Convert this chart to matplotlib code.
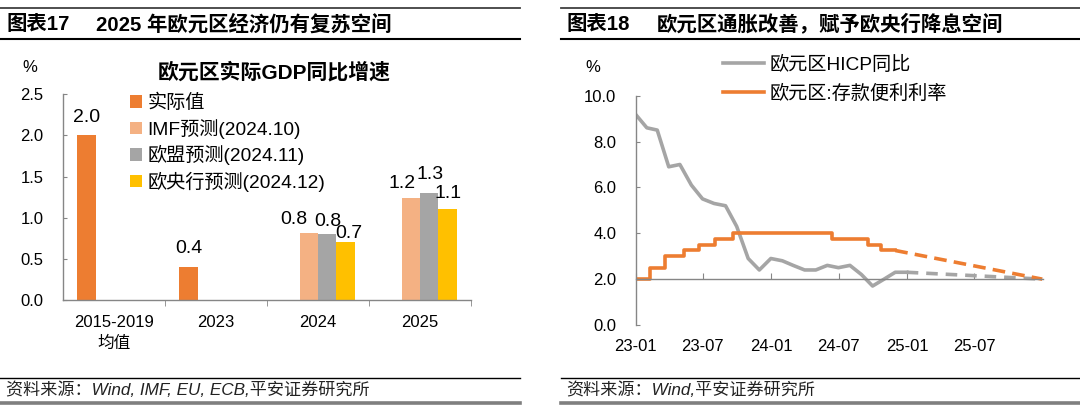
# 欧元区GDP增速预测(柱状图) + 欧元区HICP与存款便利利率(折线图)
import numpy as np
import pandas as pd
import matplotlib
matplotlib.use("Agg")
from matplotlib import pyplot as plt
from matplotlib.lines import Line2D
import matplotlib.dates as mdates

plt.rcParams['font.family'] = ['Liberation Sans', 'Noto Sans CJK SC']
plt.rcParams['axes.unicode_minus'] = False

# ---- 数据: 左图 ----
categories = ['2015-2019\n均值', '2023', '2024', '2025']
gdp_actual = [2.0, 0.4, np.nan, np.nan]
gdp_imf = [np.nan, np.nan, 0.82, 1.24]
gdp_eu = [np.nan, np.nan, 0.80, 1.30]
gdp_ecb = [np.nan, np.nan, 0.70, 1.10]
gdp_names = ['实际值', 'IMF预测(2024.10)', '欧盟预测(2024.11)', '欧央行预测(2024.12)']
left_yticks = [0.0, 0.5, 1.0, 1.5, 2.0, 2.5]

# ---- 数据: 右图 ----
hicp_dates = pd.date_range('2022-12-31', '2024-12-31', freq='ME')
hicp_values = [9.2, 8.6, 8.5, 6.9, 7.0, 6.1, 5.5, 5.3, 5.2, 4.3, 2.9, 2.4, 2.9,
               2.8, 2.6, 2.4, 2.4, 2.6, 2.5, 2.6, 2.2, 1.7, 2.0, 2.3, 2.3]
hicp_fc_dates = pd.to_datetime(['2024-12-31', '2025-12-31'])
hicp_fc_values = [2.3, 2.0]
rate_dates = pd.to_datetime(['2023-01-01', '2023-02-08', '2023-03-22', '2023-05-10',
                             '2023-06-21', '2023-08-02', '2023-09-20', '2024-06-12',
                             '2024-09-18', '2024-10-23', '2024-11-30'])
rate_values = [2.0, 2.5, 3.0, 3.25, 3.5, 3.75, 4.0, 3.75, 3.5, 3.25, 3.25]
rate_fc_dates = pd.to_datetime(['2024-11-30', '2025-12-31'])
rate_fc_values = [3.25, 2.0]
right_xticks = pd.to_datetime(['2023-01-01', '2023-07-01', '2024-01-01',
                               '2024-07-01', '2025-01-01', '2025-07-01'])
right_yticks = [0, 2, 4, 6, 8, 10]

# 颜色
c_actual = '#ED7D31'
c_imf = '#F4B183'
c_eu = '#A5A5A5'
c_ecb = '#FFC000'
c_axis = '#868686'

W, H = 1080, 413
fig = plt.figure(figsize=(W / 100, H / 100), dpi=100)


def fx(x):
    return x / W


def fy(y):
    return 1 - y / H


def hline(x0, x1, y, lw, color):
    fig.add_artist(Line2D([fx(x0), fx(x1)], [fy(y), fy(y)], lw=lw, color=color,
                          transform=fig.transFigure))


# ---- 标题与脚注 ----
for x0, x1 in [(0, 520), (561, 1080)]:
    hline(x0, x1, 8, 1.3, '#404040')
    hline(x0, x1, 39, 1.5, '#000000')
    hline(x0, x1, 378, 1.0, '#000000')
    hline(x0, x1, 402.5, 2.6, '#7f7f7f')

fig.text(fx(7), fy(24), '图表17', fontsize=14.7, fontweight='bold', va='center')
fig.text(fx(96), fy(24), '2025 年欧元区经济仍有复苏空间', fontsize=14.7, fontweight='bold', va='center')
fig.text(fx(566), fy(24), '图表18', fontsize=14.7, fontweight='bold', va='center')
fig.text(fx(657), fy(24), '欧元区通胀改善，赋予欧央行降息空间', fontsize=14.7, fontweight='bold', va='center')
fig.text(fx(6), fy(390), '资料来源：Wind, IMF, EU, ECB,平安证券研究所', fontsize=12.3,
         style='italic', va='center', color='#222222')
fig.text(fx(566), fy(390), '资料来源：Wind,平安证券研究所', fontsize=12.3,
         style='italic', va='center', color='#222222')

# ---- 左图 ----
ax1 = fig.add_axes([fx(63), fy(300), fx(471) - fx(63), fy(94.3) - fy(300)])
xx = np.arange(len(categories))
bw = 0.18
series = [gdp_actual, gdp_imf, gdp_eu, gdp_ecb]
colors = [c_actual, c_imf, c_eu, c_ecb]
# 数据标签偏移 (points)
label_off = {(0, 0): (0, 13), (0, 1): (0, 13.2),
             (1, 2): (-10.8, 9.6), (2, 2): (0.7, 9.1), (3, 2): (2.2, 6.5),
             (1, 3): (-6, 10.4), (2, 3): (0.4, 13.7), (3, 3): (0.7, 11.3)}
for k, (vals, col, name) in enumerate(zip(series, colors, gdp_names)):
    pos = xx + (k - 1.5) * bw
    ax1.bar(pos, vals, width=bw, color=col, label=name)
    for i, v in enumerate(vals):
        if np.isnan(v):
            continue
        ax1.annotate(f'{v:.1f}', (pos[i], v), xytext=label_off[(k, i)],
                     textcoords='offset points', ha='center', va='center', fontsize=14)

ax1.set_xlim(-0.5, 3.5)
ax1.set_ylim(0, 2.5)
ax1.set_yticks(left_yticks)
ax1.set_yticklabels([f'{t:.1f}' for t in left_yticks])
ax1.set_xticks(xx)
ax1.set_xticklabels(categories, linespacing=1.45)
ax1.set_xticks(np.arange(0.5, 4, 1), minor=True)
ax1.tick_params(axis='x', which='major', length=0, pad=11, labelsize=12)
ax1.tick_params(axis='x', which='minor', length=4, direction='out', color=c_axis)
ax1.tick_params(axis='y', length=3, direction='in', color=c_axis, labelsize=12, pad=14)
for s in ['top', 'right']:
    ax1.spines[s].set_visible(False)
for s in ['left', 'bottom']:
    ax1.spines[s].set_color(c_axis)
    ax1.spines[s].set_linewidth(1.0)

ax1.legend(loc='upper left', bbox_to_anchor=(fx(130), fy(94)), bbox_transform=fig.transFigure,
           frameon=False, fontsize=13.8, handlelength=0.6, handleheight=0.6,
           handletextpad=0.3, labelspacing=0.34, borderpad=0, borderaxespad=0)

fig.text(fx(30), fy(67), '%', fontsize=12, ha='center', va='center')
fig.text(fx(274), fy(72), '欧元区实际GDP同比增速', fontsize=15, fontweight='bold',
         ha='center', va='center')

# ---- 右图 ----
ax2 = fig.add_axes([fx(635.7), fy(325), fx(1043) - fx(635.7), fy(95.7) - fy(325)])
l_hicp, = ax2.plot(hicp_dates, hicp_values, color=c_eu, lw=2.6, label='欧元区HICP同比')
ax2.plot(hicp_fc_dates, hicp_fc_values, color=c_eu, lw=2.6, dashes=(3.2, 2.2))
l_rate, = ax2.step(rate_dates, rate_values, where='post', color=c_actual, lw=2.6,
                   label='欧元区:存款便利利率')
ax2.plot(rate_fc_dates, rate_fc_values, color=c_actual, lw=2.6, dashes=(3.5, 2))

ax2.set_xlim(pd.Timestamp('2023-01-01'), pd.Timestamp('2026-01-02'))
ax2.set_ylim(0, 10)
ax2.set_yticks(right_yticks)
ax2.set_yticklabels([f'{t:.1f}' for t in right_yticks])
ax2.set_xticks(right_xticks)
ax2.xaxis.set_major_formatter(mdates.DateFormatter('%y-%m'))
ax2.spines['bottom'].set_position(('data', 2.0))
ax2.tick_params(axis='x', length=4, direction='in', color=c_axis, labelsize=12, pad=43)
ax2.tick_params(axis='y', length=3, direction='in', color=c_axis, labelsize=12, pad=14)
for s in ['top', 'right']:
    ax2.spines[s].set_visible(False)
for s in ['left', 'bottom']:
    ax2.spines[s].set_color(c_axis)
    ax2.spines[s].set_linewidth(1.0)

ax2.legend(handles=[l_hicp, l_rate], loc='upper left', bbox_to_anchor=(fx(723), fy(56)),
           bbox_transform=fig.transFigure, frameon=False, fontsize=13.8,
           handlelength=2.14, handletextpad=0.3, labelspacing=0.54, borderpad=0, borderaxespad=0)
fig.text(fx(593), fy(67), '%', fontsize=12, ha='center', va='center')

fig.savefig('out.png', dpi=100)
